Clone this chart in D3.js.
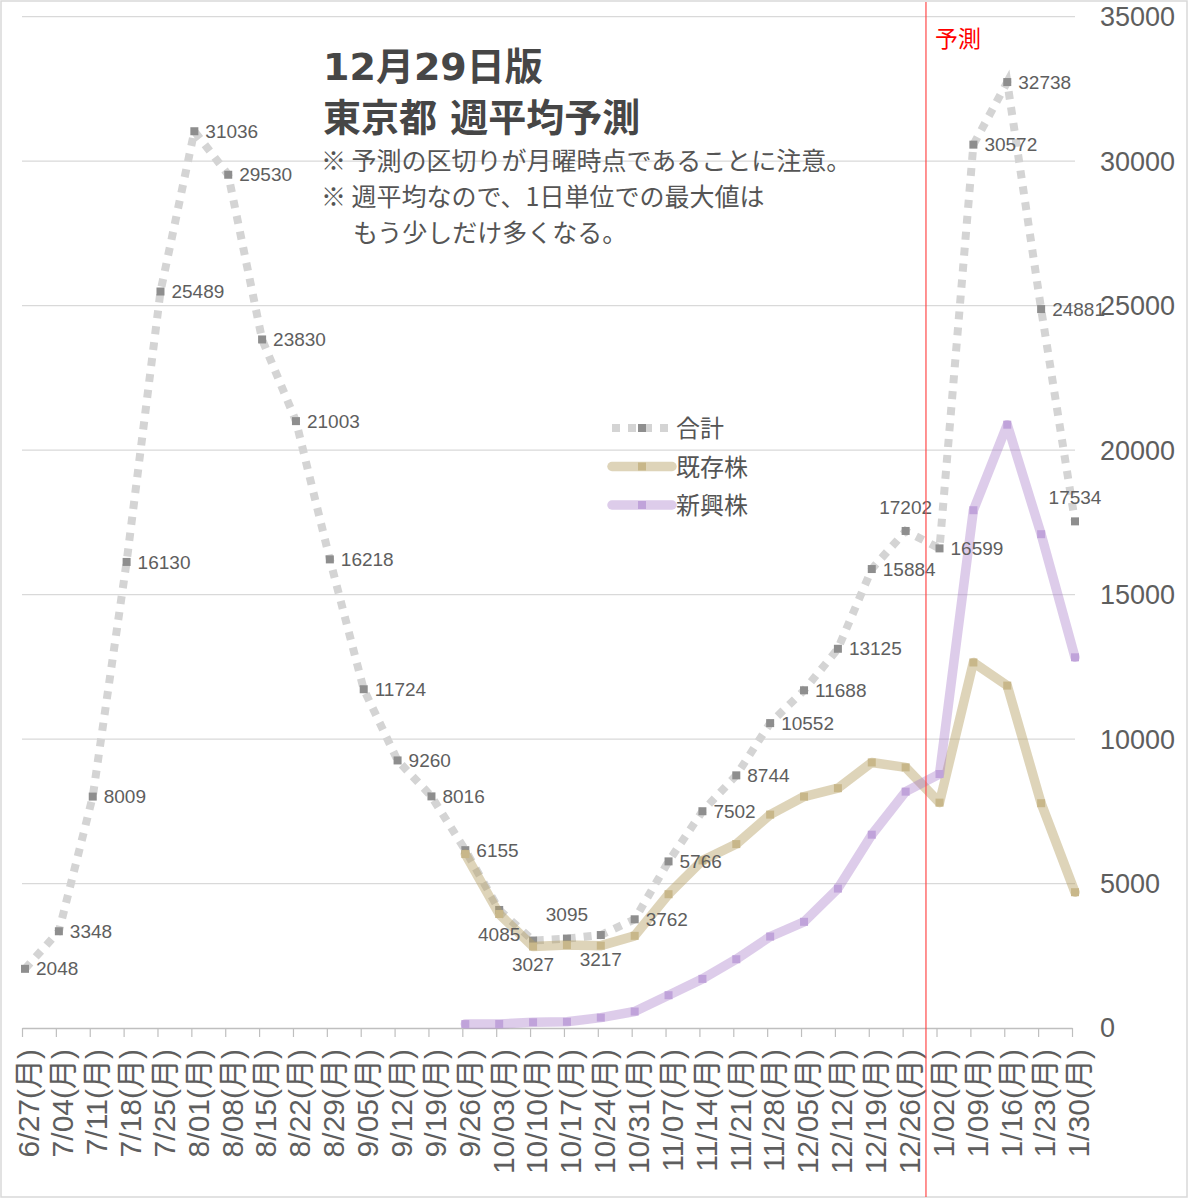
<!DOCTYPE html>
<html lang="ja">
<head>
<meta charset="UTF-8">
<title>東京都 週平均予測</title>
<script src="https://cdnjs.cloudflare.com/ajax/libs/d3/7.8.5/d3.min.js"></script>
<style>
  body { margin: 0; background: #fff; }
  svg { display: block; }
  .num { font-family: "Liberation Sans", "Noto Sans CJK JP", sans-serif; fill: #5e5e5e; }
  .jp { font-family: "Noto Sans CJK JP", sans-serif; fill: #555; }
</style>
</head>
<body>
<svg id="chart" width="1188" height="1200"></svg>
<script>
// 週（月曜）
var weeks = ["6/27", "7/04", "7/11", "7/18", "7/25", "8/01", "8/08", "8/15", "8/22", "8/29",
  "9/05", "9/12", "9/19", "9/26", "10/03", "10/10", "10/17", "10/24", "10/31", "11/07",
  "11/14", "11/21", "11/28", "12/05", "12/12", "12/19", "12/26", "1/02", "1/09", "1/16",
  "1/23", "1/30"];

// 合計
var total = [2048, 3348, 8009, 16130, 25489, 31036, 29530, 23830, 21003, 16218,
  11724, 9260, 8016, 6155, 4085, 3027, 3095, 3217, 3762, 5766,
  7502, 8744, 10552, 11688, 13125, 15884, 17202, 16599, 30572, 32738,
  24881, 17534];

// 既存株
var existing = [null, null, null, null, null, null, null, null, null, null,
  null, null, null, 6020, 3945, 2820, 2870, 2850, 3190, 4630,
  5800, 6365, 7385, 8010, 8300, 9190, 9020, 7800, 12650, 11850,
  7780, 4700];

// 新興株
var emerging = [null, null, null, null, null, null, null, null, null, null,
  null, null, null, 135, 140, 200, 215, 360, 570, 1135,
  1700, 2380, 3165, 3675, 4825, 6690, 8180, 8790, 17920, 20880,
  17090, 12830];

var yTicks = [0, 5000, 10000, 15000, 20000, 25000, 30000, 35000];
var seriesNames = ["合計", "既存株", "新興株"];

// 予測の開始位置（週インデックス上の位置）
var forecastAt = 26.6;

// 合計ラベルの置き場所（既定は右）
var labelPlace = { 14: "below", 15: "below", 16: "above", 17: "below", 26: "above", 31: "above" };

var svg = d3.select("#chart");

var x = d3.scalePoint().domain(weeks).range([25, 1075]);
var xi = d3.scaleLinear().domain([0, weeks.length - 1]).range([25, 1075]);
var y = d3.scaleLinear().domain([0, 35000]).range([1028, 16.7]);

// 枠
svg.append("rect")
  .attr("x", 1).attr("y", 1)
  .attr("width", 1186).attr("height", 1196)
  .attr("fill", "#fff")
  .attr("stroke", "#d9d9d9")
  .attr("stroke-width", 1.5);

// グリッド
svg.append("g").selectAll("line")
  .data(yTicks.filter(d => d > 0))
  .enter().append("line")
  .attr("x1", 22).attr("x2", 1075)
  .attr("y1", d => y(d)).attr("y2", d => y(d))
  .attr("stroke", "#d9d9d9")
  .attr("stroke-width", 1.2);

// 右の目盛り
svg.append("g").selectAll("text")
  .data(yTicks)
  .enter().append("text")
  .attr("class", "num")
  .attr("x", 1100)
  .attr("y", d => y(d))
  .attr("dy", "0.35em")
  .attr("font-size", 27)
  .text(d => d);

// 横軸
var xAxis = svg.append("g")
  .attr("transform", "translate(-3," + y(0) + ")")
  .attr("color", "#bfbfbf")
  .call(d3.axisBottom(x).tickSize(9).tickSizeOuter(0).tickFormat(d => d + "(月)"));
xAxis.select(".domain").attr("stroke-width", 1.4);
xAxis.selectAll(".tick line").attr("stroke-width", 1.2);
xAxis.selectAll(".tick text")
  .attr("class", "num")
  .attr("font-size", 30)
  .attr("fill", "#646464")
  .attr("text-anchor", "end")
  .attr("transform", "rotate(-90)")
  .attr("x", -21)
  .attr("y", 6)
  .attr("dy", "0.36em");

function lineFor(values) {
  return d3.line()
    .defined(d => d != null)
    .x((d, i) => xi(i))
    .y(d => y(d))(values);
}

function markers(values, color, size) {
  svg.append("g").selectAll("rect")
    .data(values.map((v, i) => ({ v: v, i: i })).filter(d => d.v != null))
    .enter().append("rect")
    .attr("x", d => xi(d.i) - size / 2)
    .attr("y", d => y(d.v) - size / 2)
    .attr("width", size).attr("height", size)
    .attr("fill", color);
}

// 合計（点線）
svg.append("path")
  .attr("d", lineFor(total))
  .attr("fill", "none")
  .attr("stroke", "#d4d4d4")
  .attr("stroke-width", 8)
  .attr("stroke-dasharray", "8 8");
markers(total, "#8e8e8e", 8);

// 既存株
svg.append("path")
  .attr("d", lineFor(existing))
  .attr("fill", "none")
  .attr("stroke", "rgba(181,160,100,0.45)")
  .attr("stroke-width", 9.5)
  .attr("stroke-linecap", "round")
  .attr("stroke-linejoin", "round");
markers(existing, "#c8b78a", 8);

// 新興株
svg.append("path")
  .attr("d", lineFor(emerging))
  .attr("fill", "none")
  .attr("stroke", "rgba(165,120,200,0.38)")
  .attr("stroke-width", 9.5)
  .attr("stroke-linecap", "round")
  .attr("stroke-linejoin", "round");
markers(emerging, "#c0a3da", 8);

// 合計のデータラベル
svg.append("g").selectAll("text")
  .data(total)
  .enter().append("text")
  .attr("class", "num")
  .attr("font-size", 19)
  .attr("dy", "0.35em")
  .each(function (d, i) {
    var p = labelPlace[i] || "right";
    var t = d3.select(this);
    if (p === "right") {
      t.attr("x", xi(i) + 11).attr("y", y(d)).attr("text-anchor", "start");
    } else {
      t.attr("x", xi(i)).attr("y", y(d) + (p === "above" ? -24 : 24)).attr("text-anchor", "middle");
    }
  })
  .text(d => d);

// 予測の区切り
svg.append("line")
  .attr("x1", xi(forecastAt)).attr("x2", xi(forecastAt))
  .attr("y1", 2).attr("y2", 1197)
  .attr("stroke", "#ff4a4a")
  .attr("stroke-width", 1.2);
svg.append("text")
  .attr("class", "jp")
  .attr("x", xi(forecastAt) + 9)
  .attr("y", 47)
  .attr("font-size", 23)
  .style("fill", "#ff0000")
  .text("予測");

// 凡例
var legend = svg.append("g").attr("transform", "translate(612,428)");
var legendStyles = [
  { stroke: "#d4d4d4", dash: "8 8", cap: "butt", marker: "#8e8e8e" },
  { stroke: "rgba(181,160,100,0.45)", dash: null, cap: "round", marker: "#c8b78a" },
  { stroke: "rgba(165,120,200,0.38)", dash: null, cap: "round", marker: "#c0a3da" }
];
var li = legend.selectAll("g")
  .data(seriesNames)
  .enter().append("g")
  .attr("transform", (d, i) => "translate(0," + i * 38.5 + ")");
li.append("line")
  .attr("x1", 0).attr("x2", 60)
  .attr("stroke", (d, i) => legendStyles[i].stroke)
  .attr("stroke-width", (d, i) => i === 0 ? 8 : 9.5)
  .attr("stroke-dasharray", (d, i) => legendStyles[i].dash)
  .attr("stroke-linecap", (d, i) => legendStyles[i].cap);
li.append("rect")
  .attr("x", 26).attr("y", -4)
  .attr("width", 8).attr("height", 8)
  .attr("fill", (d, i) => legendStyles[i].marker);
li.append("text")
  .attr("class", "jp")
  .attr("x", 64)
  .attr("y", 9)
  .attr("font-size", 24)
  .text(d => d);

// タイトルと注記
var title = svg.append("g")
  .attr("font-family", "'DejaVu Sans', 'Noto Sans CJK JP', sans-serif")
  .attr("font-weight", "bold")
  .attr("font-size", 38)
  .attr("fill", "#464646");
title.append("text").attr("x", 323).attr("y", 80).text("12月29日版");
title.append("text").attr("x", 323).attr("y", 131).text("東京都 週平均予測");

var notes = svg.append("g").attr("font-size", 25);
notes.append("text").attr("class", "jp").attr("x", 321).attr("y", 170).text("※ 予測の区切りが月曜時点であることに注意。");
notes.append("text").attr("class", "jp").attr("x", 321).attr("y", 206).text("※ 週平均なので、1日単位での最大値は");
notes.append("text").attr("class", "jp").attr("x", 353).attr("y", 242).text("もう少しだけ多くなる。");
</script>
</body>
</html>
